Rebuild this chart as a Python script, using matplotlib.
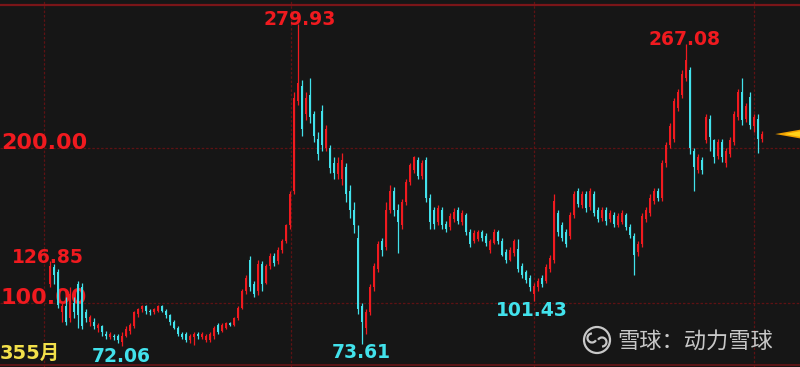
"""Monthly candlestick chart, dark theme, with high/low callouts. Agg, 800x367."""
import matplotlib
matplotlib.use("Agg")
import matplotlib.pyplot as plt  # noqa: E402
import matplotlib.transforms as mtransforms  # noqa: E402
from matplotlib.patches import Circle, Arc, Polygon  # noqa: E402
import numpy as np  # noqa: E402

BG = "#161616"
RED, CYAN = "#f01a1f", "#42e2ec"
GRID = "#5e1214"
YELLOW = "#f2e04a"

# OHLC per candle (left to right)
opens = [112, 123, 120, 94, 98, 90, 100, 112, 110, 94,
         88, 88, 84, 85, 80, 78, 79, 79, 75, 79,
         82, 85, 93, 96, 98, 95, 94, 95, 98, 95,
         92, 88, 84, 80, 80, 76, 78, 80, 78, 76,
         76, 79, 86, 82, 84, 87, 86, 90, 97, 108,
         128, 112, 108, 125, 113, 124, 130, 127, 134, 140,
         150, 172, 230, 240, 222, 234, 222, 206, 224, 200,
         200, 190, 183, 180, 188, 172, 160, 142, 98, 84,
         94, 110, 122, 140, 136, 160, 172, 160, 150, 165,
         178, 186, 192, 182, 192, 168, 160, 152, 160, 151,
         149, 154, 160, 152, 157, 146, 140, 141, 146, 143,
         134, 139, 146, 140, 133, 128, 132, 135, 124, 120,
         116, 106, 110, 116, 114, 122, 128, 158, 150, 146,
         143, 157, 172, 163, 170, 162, 170, 160, 155, 160,
         154, 157, 150, 152, 157, 149, 143, 133, 138, 154,
         158, 166, 172, 168, 190, 202, 206, 226, 234, 245,
         250, 198, 186, 192, 205, 219, 205, 195, 204, 190,
         196, 204, 220, 236, 219, 233, 214, 219, 206]
closes = [124, 118, 99, 98, 88, 106, 94, 92, 85, 90,
          91, 85, 86, 81, 79, 80, 78, 76, 79, 83,
          86, 94, 96, 98, 95, 94, 96, 98, 95, 92,
          88, 84, 80, 78, 76, 79, 80, 79, 80, 79,
          80, 84, 81, 86, 87, 86, 90, 97, 108, 116,
          110, 106, 125, 112, 124, 130, 126, 134, 140, 150,
          170, 232, 242, 212, 232, 220, 208, 196, 202, 212,
          187, 184, 190, 192, 170, 160, 150, 96, 88, 94,
          110, 124, 138, 134, 160, 172, 160, 152, 165, 178,
          189, 194, 182, 190, 168, 152, 151, 161, 150, 148,
          156, 159, 153, 158, 146, 138, 145, 146, 142, 139,
          140, 146, 140, 131, 128, 134, 140, 122, 118, 115,
          110, 111, 114, 112, 123, 129, 166, 146, 142, 138,
          157, 170, 164, 170, 161, 172, 158, 154, 160, 153,
          158, 151, 156, 158, 149, 144, 131, 138, 156, 160,
          168, 172, 168, 190, 202, 214, 230, 236, 248, 257,
          200, 188, 194, 186, 220, 207, 194, 204, 194, 198,
          205, 222, 236, 218, 227, 215, 220, 206, 209]
highs = [126.85, 125, 122, 100, 104, 110, 104, 114, 113, 96,
         92, 90, 87, 86, 82, 81, 80, 80, 81, 85,
         87, 95, 97, 99, 99, 96, 97, 99, 99, 96,
         93, 89, 85, 81, 81, 80, 81, 81, 81, 80,
         81, 85, 87, 87, 88, 88, 91, 98, 109, 118,
         130, 114, 128, 127, 125, 132, 132, 136, 141, 151,
         172, 236, 279.93, 244, 236, 245, 224, 210, 228, 215,
         202, 194, 194, 197, 190, 176, 165, 150, 100, 96,
         112, 126, 140, 142, 165, 176, 175, 164, 167, 180,
         190, 195, 194, 192, 194, 170, 162, 163, 162, 153,
         158, 161, 162, 160, 158, 148, 147, 147, 147, 145,
         141, 148, 147, 142, 135, 136, 141, 141, 126, 121,
         118, 113, 116, 118, 125, 131, 170, 160, 152, 148,
         159, 172, 174, 172, 172, 174, 172, 162, 162, 162,
         160, 159, 158, 160, 158, 151, 145, 140, 158, 162,
         170, 174, 174, 192, 204, 216, 232, 238, 250, 267.08,
         252, 200, 196, 194, 222, 221, 206, 206, 206, 200,
         207, 224, 238, 245, 229, 236, 222, 222, 211]
lows = [110, 112, 97, 88, 86, 88, 90, 84, 83, 88,
        85, 83, 81, 79, 77, 77, 76, 74, 72.06, 78,
        80, 84, 91, 94, 93, 92, 93, 94, 94, 90,
        86, 83, 79, 77, 75, 74, 73, 77, 77, 75,
        75, 77, 80, 81, 83, 85, 85, 89, 96, 106,
        108, 104, 105, 108, 112, 122, 124, 125, 132, 139,
        148, 170, 228, 208, 218, 216, 204, 192, 198, 198,
        184, 180, 180, 176, 165, 155, 145, 93, 73.61, 80,
        92, 108, 120, 130, 134, 158, 156, 132, 148, 163,
        176, 184, 180, 180, 165, 148, 148, 150, 148, 146,
        147, 152, 151, 150, 144, 136, 139, 140, 140, 137,
        132, 138, 138, 130, 126, 127, 130, 120, 116, 113,
        108, 101.43, 108, 110, 113, 120, 126, 143, 140, 136,
        141, 155, 162, 161, 159, 160, 156, 152, 153, 150,
        152, 149, 149, 151, 147, 142, 118, 130, 136, 152,
        156, 164, 166, 166, 188, 200, 204, 224, 232, 243,
        196, 172, 184, 183, 203, 198, 190, 193, 191, 188,
        194, 202, 218, 215, 217, 212, 210, 197, 204]

# callouts: (candle index, text, high/low, offset px)
peaks = [(62, "279.93", "hi", (2, 5)), (159, "267.08", "hi", (-1, 5)),
         (0, "126.85", "hi", (-2.5, 4))]
troughs = [(18, "72.06", "lo", (-1, -10)), (78, "73.61", "lo", (-1, -9)),
           (121, "101.43", "lo", (-2.5, -10))]
levels = [200, 100]
period_label = "355月"
watermark = "雪球：动力雪球"

plt.rcParams["font.family"] = ["DejaVu Sans", "Noto Sans CJK SC"]


def main():
    o, c = np.array(opens, float), np.array(closes, float)
    h, lo = np.array(highs, float), np.array(lows, float)
    x = np.arange(len(o))
    col = np.where(c >= o, RED, CYAN)

    fig = plt.figure(figsize=(8, 3.67), dpi=100, facecolor=BG)
    ax = fig.add_axes([0, 0, 1, 1], facecolor=BG)
    # px = 50 + 4*i ; price = 200 - (py - 148)/1.55
    ax.set_xlim(-12.5, 187.5)
    ax.set_ylim(58.71, 295.48)
    ax.axis("off")

    # frame + grid
    for v in (-1.5, 60.25, 121, 176):
        ax.axvline(v, color=GRID, lw=0.9, ls=(0, (2, 1.5)), zorder=0)
    for lv in levels:
        ax.axhline(lv, color=GRID, lw=0.9, ls=(0, (2, 1.5)), zorder=0)
    ax.axhline(292.3, color="#7a1518", lw=1.6, zorder=0)
    ax.axhline(60.0, color="#6a1416", lw=1.2, zorder=0)

    # candles
    ax.vlines(x, lo, h, colors=col, lw=0.9, zorder=2)
    body = np.maximum(np.abs(c - o), 0.7)
    ax.bar(x, body, bottom=np.minimum(o, c), width=0.74, color=col,
           linewidth=0, zorder=3)

    px2pt = 0.72
    for i, txt, k, (dx, dy) in peaks + troughs:
        val = h[i] if k == "hi" else lo[i]
        ax.annotate(txt, xy=(i, val), xytext=(dx * px2pt, dy * px2pt),
                    textcoords="offset points", ha="center", va="center",
                    color=RED if k == "hi" else CYAN, fontsize=13.5,
                    fontweight="bold", family="DejaVu Sans", zorder=5)

    bt = mtransforms.blended_transform_factory(ax.transAxes, ax.transData)
    for lv in levels:
        ax.text(0.001, lv - 0.6, f"{lv:.2f}", transform=bt, ha="left",
                va="baseline", color=RED, fontsize=16, fontweight="bold",
                zorder=1)

    ax.text(0.0, 63.9, period_label, transform=bt, ha="left", va="baseline",
            color=YELLOW, fontsize=14, fontweight="bold", zorder=5)

    # last-price pointer
    last = c[-1]
    ax.add_patch(Polygon([(0.969, last), (1.0, last + 2.8), (1.0, last - 2.8)],
                         closed=True, transform=bt, color="#f0a000", lw=0,
                         zorder=5))
    ax.add_patch(Polygon([(0.98, last), (1.0, last + 1.8), (1.0, last - 1.8)],
                         closed=True, transform=bt, color="#ffd21a", lw=0,
                         zorder=6))

    # watermark
    wm = "#c8c8c8"
    ti = fig.dpi_scale_trans
    ax.add_patch(Circle((5.97, 0.27), 0.13, transform=ti, fill=False,
                        ec=wm, lw=1.6, zorder=6))
    ax.add_patch(Arc((5.92, 0.29), 0.09, 0.09, theta1=90, theta2=330,
                     transform=ti, ec=wm, lw=1.6, zorder=6))
    ax.add_patch(Arc((6.02, 0.25), 0.09, 0.09, theta1=270, theta2=150,
                     transform=ti, ec=wm, lw=1.6, zorder=6))
    ax.text(617 / 800, 1 - 341 / 367, watermark, transform=ax.transAxes,
            ha="left", va="center", color=wm, fontsize=16,
            family=["Noto Sans CJK SC", "DejaVu Sans"], zorder=6)

    fig.savefig("out.png", dpi=100, facecolor=BG)


if __name__ == "__main__":
    main()
